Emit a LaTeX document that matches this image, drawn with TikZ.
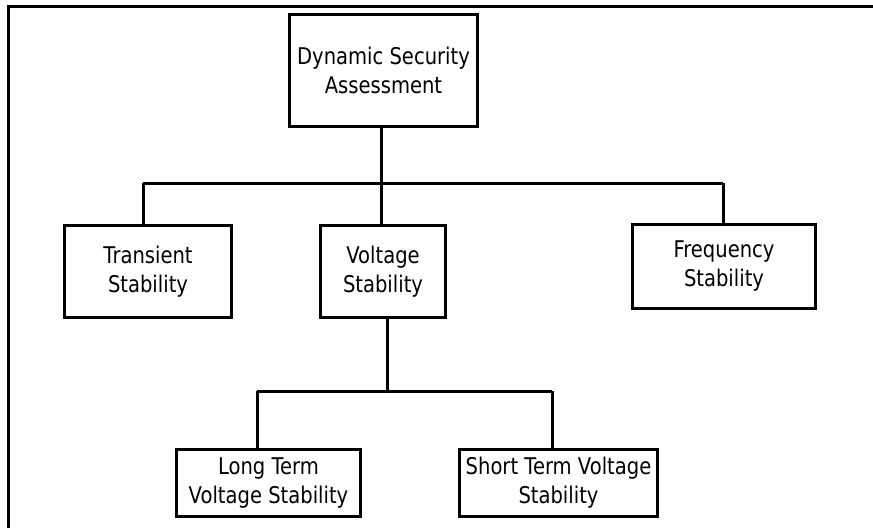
\documentclass[tikz,border=0pt]{standalone}
\usepackage{fontspec}
\setmainfont{DejaVu Sans}[FakeStretch=0.85]
\begin{document}
\begin{tikzpicture}[x=1pt,y=-1pt,
  box/.style={draw, line width=3pt, align=center, inner sep=0pt,
    font=\fontsize{23}{29}\selectfont},
  conn/.style={line width=3pt},
  frame/.style={line width=3.2pt}]
\useasboundingbox (0,0) rectangle (873,528);
\node[box, minimum width=188, minimum height=112] (dsa) at (383.5,70.5) {Dynamic Security\\Assessment};
\node[box, minimum width=167, minimum height=92] (tr) at (148,271.5) {Transient\\Stability};
\node[box, minimum width=125, minimum height=92] (vs) at (383,271.5) {Voltage\\Stability};
\node[box, minimum width=183, minimum height=84] (fs) at (724,266.5) {Frequency\\Stability};
\node[box, minimum width=184, minimum height=67] (lt) at (268.5,483) {Long Term\\Voltage Stability};
\node[box, minimum width=198, minimum height=67] (st) at (558.5,483) {Short Term Voltage\\Stability};
\coordinate (busL) at (143,183);
\coordinate (busR) at (723,183);
\coordinate (bus2L) at (257,391);
\coordinate (bus2R) at (552,391);
\draw[conn] (dsa.south -| 381,0) -- (381,183);
\draw[conn] (busL) -- (busR);
\draw[conn] (busL) -- (busL |- tr.north);
\draw[conn] (vs.north -| 381,0) -- (381,183);
\draw[conn] (busR) -- (busR |- fs.north);
\draw[conn] (vs.south -| 387,0) -- (387,391);
\draw[conn] (bus2L) -- (bus2R);
\draw[conn] (bus2L) -- (bus2L |- lt.north);
\draw[conn] (bus2R) -- (bus2R |- st.north);
\draw[frame] (8.5,528) -- (8.5,6.5) -- (873,6.5);
\end{tikzpicture}
\end{document}
